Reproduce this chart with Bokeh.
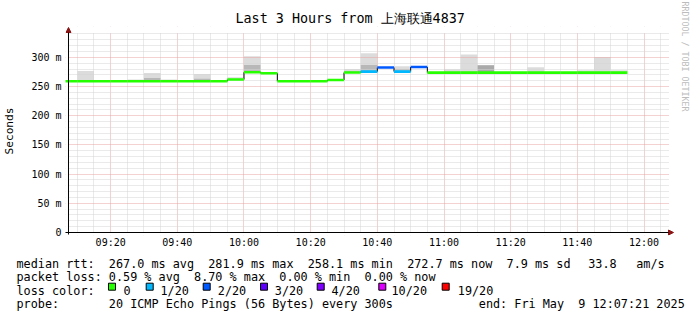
import math
from bokeh.plotting import figure
from bokeh.layouts import column
from bokeh.models import FixedTicker, Arrow, NormalHead, Title, Range1d
from bokeh.core.properties import value
from bokeh.embed import file_html
from bokeh.resources import INLINE

# ---------------- data ----------------
title_text = "Last 3 Hours from 上海联通4837"
start_time = "09:07:21"
end_time = "12:07:21"

slot_start = ["09:05", "09:10", "09:15", "09:20", "09:25", "09:30", "09:35", "09:40",
              "09:45", "09:50", "09:55", "10:00", "10:05", "10:10", "10:15", "10:20",
              "10:25", "10:30", "10:35", "10:40", "10:45", "10:50", "10:55", "11:00",
              "11:05", "11:10", "11:15", "11:20", "11:25", "11:30", "11:35", "11:40",
              "11:45", "11:50"]
median_ms = [259.0, 259.0, 259.0, 259.0, 259.0, 259.0, 259.0, 259.0,
             259.0, 259.0, 262.0, 274.4, 272.7, 259.0, 259.0, 259.0,
             261.3, 274.0, 275.6, 282.5, 275.6, 283.5, 273.8, 273.8,
             273.8, 273.8, 273.8, 273.8, 273.8, 273.8, 273.8, 273.8,
             273.8, 273.8]
lost_pings = [0, 0, 0, 0, 0, 0, 0, 0,
              0, 0, 0, 0, 0, 0, 0, 0,
              0, 0, 1, 2, 1, 2, 0, 0,
              0, 0, 0, 0, 0, 0, 0, 0,
              0, 0]
smoke_hi = [259.0, 276.6, 260.5, 259.0, 262.0, 273.0, 262.0, 259.0,
            271.5, 259.0, 266.0, 301.7, 272.7, 259.0, 259.0, 259.0,
            261.3, 280.0, 307.0, 282.5, 284.6, 283.5, 273.8, 279.5,
            305.0, 286.3, 273.8, 273.8, 283.0, 273.8, 273.8, 277.8,
            300.5, 277.8]
smoke_mid = [259.0, 261.0, 259.0, 259.0, 259.0, 264.5, 259.0, 259.0,
             263.5, 259.0, 263.0, 287.0, 272.7, 259.0, 259.0, 259.0,
             261.3, 276.0, 287.0, 282.5, 280.0, 283.5, 273.8, 273.8,
             275.5, 286.3, 273.8, 273.8, 273.8, 273.8, 273.8, 273.8,
             273.8, 273.8]

x_tick_labels = ["09:20", "09:40", "10:00", "10:20", "10:40", "11:00", "11:20", "11:40", "12:00"]
y_tick_values = [0, 50, 100, 150, 200, 250, 300]
y_tick_labels = ["0", "50 m", "100 m", "150 m", "200 m", "250 m", "300 m"]

loss_levels = ["0", "1/20", "2/20", "3/20", "4/20", "10/20", "19/20"]
loss_thresholds = [0, 1, 2, 3, 4, 10, 19]
loss_colors = ["#26ff00", "#00b8ff", "#0059ff", "#5e00ff", "#7e00ff", "#dd00ff", "#ff0000"]

legend_rtt = "median rtt:  267.0 ms avg  281.9 ms max  258.1 ms min  272.7 ms now  7.9 ms sd"
legend_rtt_am = "33.8"
legend_rtt_unit = "am/s"
legend_loss = "packet loss: 0.59 % avg  8.70 % max  0.00 % min  0.00 % now"
legend_color = "loss color:"
legend_probe = "probe:       20 ICMP Echo Pings (56 Bytes) every 300s"
legend_end = "end: Fri May  9 12:07:21 2025"
watermark = "RRDTOOL / TOBI OETIKER"

MONO = "DejaVu Sans Mono"


def to_min(s):
    parts = [int(v) for v in s.split(":")]
    m = parts[0] * 60 + parts[1]
    if len(parts) > 2:
        m += parts[2] / 60.0
    return m


def keep_spaces(s):
    return s.replace(" ", "\u00a0")


x_lo = to_min(start_time)
x_hi = to_min(end_time)

# layout helpers: plot area in picture pixels x 67..668, y 233 (=0 ms) upward
PX_PER_MIN = 601.0 / (x_hi - x_lo)
PX_PER_MS = 176.0 / 300.0


def X(px):
    return x_lo + (px - 67.0) / PX_PER_MIN


def Y(py):
    return (233.0 - py) / PX_PER_MS


def loss_color(n):
    c = loss_colors[0]
    for t, col in zip(loss_thresholds, loss_colors):
        if n >= t:
            c = col
    return c


starts = [to_min(s) for s in slot_start]
ends = [s + 5 for s in starts]

H1 = 250
xr = Range1d(X(64), X(675))
yr = Range1d(Y(236), Y(26))
p = figure(width=697, height=H1, output_backend="svg", toolbar_location=None,
           x_range=xr, y_range=yr,
           min_border_left=64, min_border_right=22, min_border_top=26, min_border_bottom=H1 - 236)
p.background_fill_color = "white"
p.border_fill_color = "white"
p.outline_line_color = None

p.title.text = title_text
p.title.text_font = MONO
p.title.text_font_size = "13.4px"
p.title.text_font_style = "normal"
p.title.align = "left"
p.title.offset = 170
p.title.standoff = 2
p.title.text_color = "black"

wm = Title(text=watermark, text_font=MONO, text_font_size="8.3px", text_font_style="normal",
           text_color="#bcbcbc", align="left", standoff=8, offset=-25)
p.add_layout(wm, "right")

# smoke (drawn below the grid)
p.quad(left=starts, right=ends, bottom=median_ms, top=smoke_hi,
       fill_color="#dcdcdc", line_color=None, level="image")
mid_colors = ["#aaaaaa" if abs(h - m) < 0.01 and h > md + 0.01 else "#b8b8b8"
              for h, m, md in zip(smoke_hi, smoke_mid, median_ms)]
p.quad(left=starts, right=ends, bottom=median_ms, top=smoke_mid,
       fill_color=mid_colors, line_color=None, level="image")

# axes & grid
xt = [to_min(t) for t in x_tick_labels]
xminor = [m for m in range(550, 730, 5) if m not in xt]
p.xaxis.ticker = FixedTicker(ticks=xt, minor_ticks=xminor)
p.xaxis.major_label_overrides = {t: lab for t, lab in zip(xt, x_tick_labels)}
yminor = [v for v in range(10, 345, 10) if v not in y_tick_values]
p.yaxis.ticker = FixedTicker(ticks=y_tick_values, minor_ticks=yminor)
p.yaxis.major_label_overrides = {v: lab for v, lab in zip(y_tick_values, y_tick_labels)}

for ax in (p.xaxis, p.yaxis):
    ax.axis_line_color = None
    ax.major_tick_line_color = None
    ax.minor_tick_line_color = None
    ax.major_tick_in = 0
    ax.major_tick_out = 0
    ax.minor_tick_in = 0
    ax.minor_tick_out = 0
    ax.major_label_text_font = MONO
    ax.major_label_text_font_size = "10px"
    ax.major_label_text_color = "black"
p.xaxis.major_label_standoff = 1
p.yaxis.major_label_standoff = 4
p.yaxis.axis_label = "Seconds"
p.yaxis.axis_label_text_font = MONO
p.yaxis.axis_label_text_font_size = "11.2px"
p.yaxis.axis_label_text_font_style = "normal"
p.yaxis.axis_label_text_color = "black"
p.yaxis.axis_label_standoff = 12

for g in (p.xgrid, p.ygrid):
    g.grid_line_color = "#e8a4a4"
    g.grid_line_dash = "1 1"
    g.grid_line_width = 1
    g.minor_grid_line_color = "#d4d4d4"
    g.minor_grid_line_dash = "1 1"
    g.minor_grid_line_width = 1

# white strips so the grid stays inside the plot area
p.quad(left=[xr.start, xr.start, X(668.5), xr.start],
       right=[x_lo, xr.end, xr.end, xr.end],
       bottom=[yr.start, yr.start, yr.start, Y(32.5)],
       top=[yr.end, 0, yr.end, yr.end],
       fill_color="white", line_color=None)

# median steps: vertical black connectors
vx = starts[1:]
p.segment(x0=vx, y0=median_ms[:-1], x1=vx, y1=median_ms[1:], line_color="black", line_width=1)
# coloured horizontal median segments
seg_colors = [loss_color(n) for n in lost_pings]
p.segment(x0=starts, y0=median_ms, x1=ends, y1=median_ms,
          line_color=seg_colors, line_width=2.6)

# axis lines with arrow heads
p.segment(x0=[X(63), x_lo], y0=[0, Y(235)], x1=[X(670), x_lo], y1=[0, Y(29)],
          line_color="black", line_width=1)
arrow_red = "#8b1414"
p.add_layout(Arrow(x_start=X(664), y_start=0, x_end=X(673), y_end=0,
                   line_color="black", line_width=1,
                   end=NormalHead(size=5, fill_color=arrow_red, line_color=arrow_red)))
p.add_layout(Arrow(x_start=x_lo, y_start=Y(36), x_end=x_lo, y_end=Y(27),
                   line_color="black", line_width=1,
                   end=NormalHead(size=5, fill_color=arrow_red, line_color=arrow_red)))

# ---------------- legend strip (picture pixel coordinates) ----------------
H2 = 315 - H1
q = figure(width=697, height=H2, output_backend="svg", toolbar_location=None,
           x_range=Range1d(0, 697), y_range=Range1d(315, H1),
           min_border=0, min_border_left=0, min_border_right=0,
           min_border_top=0, min_border_bottom=0)
q.axis.visible = False
q.grid.visible = False
q.outline_line_color = None
q.background_fill_color = "white"
q.border_fill_color = "white"

for fig in (p, q):
    if "frame_align" in fig.properties():
        fig.frame_align = False

tx = [16, 587.7, 635.7, 16, 16, 16, 478.3]
ty = [263.3, 263.3, 263.3, 276.7, 290, 303.3, 303.3]
tt = [legend_rtt, legend_rtt_am, legend_rtt_unit, legend_loss,
      legend_color, legend_probe, legend_end]
square_px = [108, 145.7, 202.7, 260, 316.7, 378.3, 441.7]
label_px = [123, 160, 217.3, 274.3, 331, 391, 457.3]
tx += label_px
ty += [290] * len(label_px)
tt += loss_levels
q.text(x=tx, y=ty, text=[keep_spaces(s) for s in tt], text_font=value(MONO),
       text_font_size="11.8px", text_baseline="alphabetic", text_align="left",
       text_color="black")
q.quad(left=square_px, right=[s + 7 for s in square_px],
       top=[282.7] * len(square_px), bottom=[289.7] * len(square_px),
       fill_color=loss_colors, line_color="black", line_width=1)

layout = column(p, q, spacing=0)
open("out.html", "w").write(file_html(layout, INLINE))
